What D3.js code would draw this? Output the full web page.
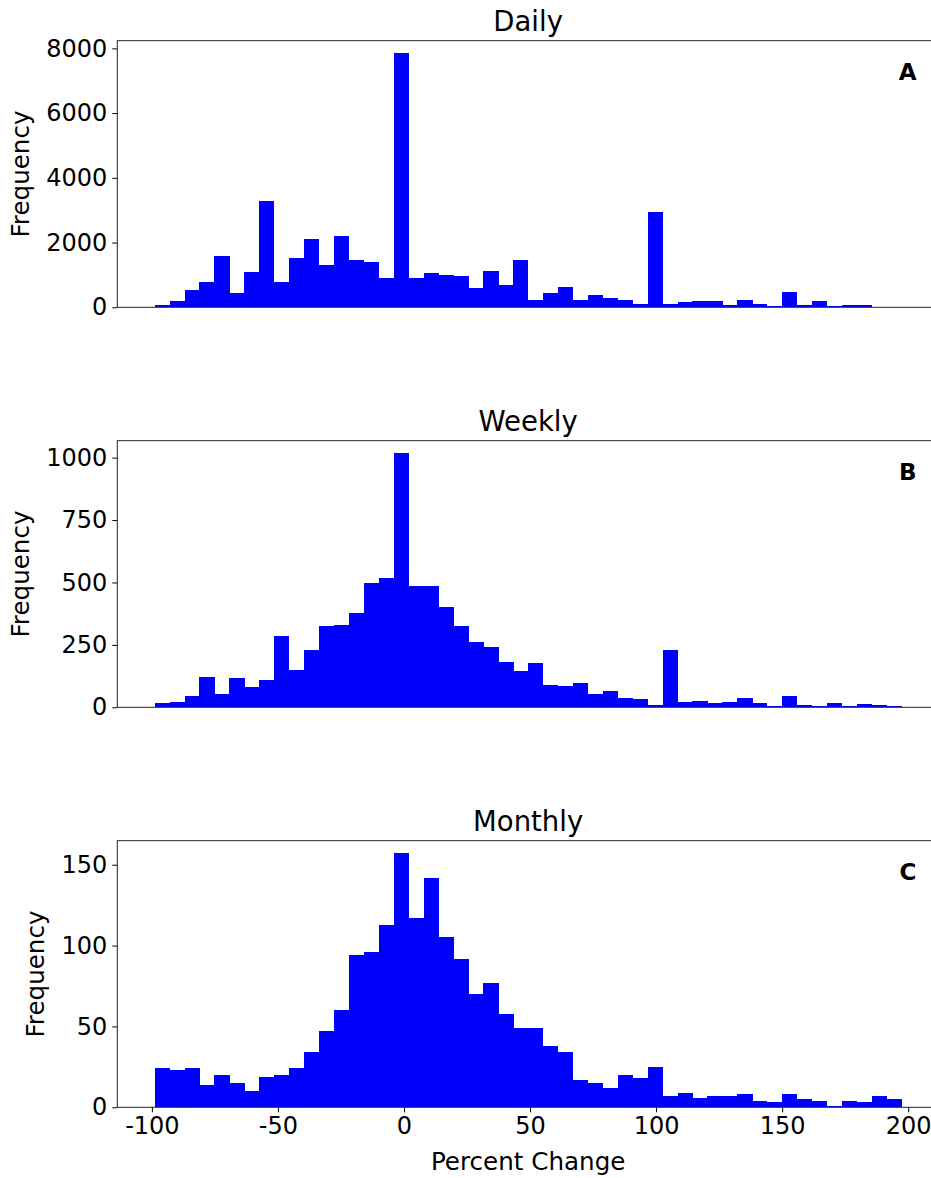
<!DOCTYPE html>
<html>
<head>
<meta charset="utf-8">
<script src="https://cdn.jsdelivr.net/npm/d3@7"></script>
<style>
  html, body { margin: 0; padding: 0; background: #fff; overflow: hidden; }
  svg { display: block; }
  text { font-family: "DejaVu Sans", sans-serif; fill: #000; }
</style>
</head>
<body>
<svg id="chart" width="931" height="1178"></svg>
<script>
// ---- data ----
const binStart = -98.9;
const binWidth = 5.926;
const dailyCounts = [72,196,535,782,1586,443,1091,3284,782,1524,2111,1308,2203,1462,1400,906,7845,906,1060,999,968,597,1122,690,1462,227,443,628,227,381,288,227,103,2945,103,165,196,196,72,227,103,41,474,72,196,41,72,72,0,0];
const weeklyCounts = [17,21,45,121,53,117,81,109,285,149,229,325,329,377,497,517,1017,485,485,401,325,261,241,181,145,177,89,85,97,53,65,37,33,9,229,21,25,17,21,37,17,5,45,9,5,17,5,13,9,5];
const monthlyCounts = [24,23,24,14,20,15,10,19,20,24,34,47,60,94,96,113,157,117,142,105,92,70,77,58,49,49,38,34,17,15,12,20,18,25,7,9,6,7,7,8,4,3,8,5,4,1,4,3,7,5];
const panelTitles = ["Daily", "Weekly", "Monthly"];
const panelLetters = ["A", "B", "C"];
const yTicksDaily = [0, 2000, 4000, 6000, 8000];
const yTicksWeekly = [0, 250, 500, 750, 1000];
const yTicksMonthly = [0, 50, 100, 150];
const xTicks = [-100, -50, 0, 50, 100, 150, 200];
const xLabel = "Percent Change";
const yLabel = "Frequency";

// ---- layout ----
const svg = d3.select("#chart");
const left = 117.3, right = 939;
const panelTops = [40.7, 440.7, 840.7];
const panelH = 266.6;

const binEdges = d3.range(dailyCounts.length + 1).map(i => binStart + i * binWidth);
const dataMin = binEdges[0], dataMax = binEdges[binEdges.length - 1];
const margin = (dataMax - dataMin) * 0.05;
const x = d3.scaleLinear().domain([dataMin - margin, dataMax + margin]).range([left, right]);

const panels = [
  { counts: dailyCounts, ticks: yTicksDaily, labelX: 28.5 },
  { counts: weeklyCounts, ticks: yTicksWeekly, labelX: 28.5 },
  { counts: monthlyCounts, ticks: yTicksMonthly, labelX: 43.5 }
];

panels.forEach((p, pi) => {
  const top = panelTops[pi], bottom = top + panelH;
  const ymax = d3.max(p.counts) * 1.05;
  const y = d3.scaleLinear().domain([0, ymax]).range([bottom, top]);
  const g = svg.append("g");

  // bars
  const bins = p.counts.map((c, i) => ({ x0: binEdges[i], x1: binEdges[i + 1], c }));
  g.selectAll("rect.bar").data(bins.filter(b => b.c > 0)).enter().append("rect")
    .attr("class", "bar")
    .attr("x", d => x(d.x0))
    .attr("width", d => x(d.x1) - x(d.x0) + 0.3)
    .attr("y", d => y(d.c))
    .attr("height", d => y(0) - y(d.c))
    .attr("fill", "#0000ff")
    .attr("shape-rendering", "crispEdges");

  // y axis
  const yAxis = d3.axisLeft(y).tickValues(p.ticks).tickSize(5).tickPadding(5).tickFormat(d3.format("d"));
  const ya = g.append("g").attr("transform", `translate(${left},0)`).call(yAxis);
  ya.select(".domain").remove();
  ya.selectAll("text").style("font-size", "24px").style("font-family", "DejaVu Sans").attr("fill", "#000");
  ya.selectAll("line").attr("stroke", "#000").attr("stroke-width", 1);

  // x axis (only bottom panel has labels)
  if (pi === 2) {
    const xAxis = d3.axisBottom(x).tickValues(xTicks).tickSize(5).tickPadding(5).tickFormat(d3.format("d"));
    const xa = g.append("g").attr("transform", `translate(0,${bottom})`).call(xAxis);
    xa.select(".domain").remove();
    xa.selectAll("text").style("font-size", "24px").style("font-family", "DejaVu Sans").attr("fill", "#000")
      .text(d => String(d).replace("\u2212", "-"));
    xa.selectAll("line").attr("stroke", "#000").attr("stroke-width", 1);
  }

  // spines
  g.append("rect")
    .attr("x", left).attr("y", top)
    .attr("width", right - left).attr("height", panelH)
    .attr("fill", "none").attr("stroke", "#222").attr("stroke-width", 1);

  // title
  g.append("text").attr("x", (left + right) / 2).attr("y", top - 10)
    .attr("text-anchor", "middle").style("font-size", "27.5px").text(panelTitles[pi]);

  // letter
  g.append("text").attr("x", 916.5).attr("y", top + 39.5)
    .attr("text-anchor", "end").style("font-size", "23px").style("font-weight", "bold").text(panelLetters[pi]);

  // y label
  g.append("text")
    .attr("transform", `translate(${p.labelX},${(top + bottom) / 2}) rotate(-90)`)
    .attr("text-anchor", "middle").style("font-size", "24.6px").text(yLabel);
});

// x label
svg.append("text").attr("x", (left + right) / 2).attr("y", 1170)
  .attr("text-anchor", "middle").style("font-size", "24.6px").text(xLabel);
</script>
</body>
</html>
